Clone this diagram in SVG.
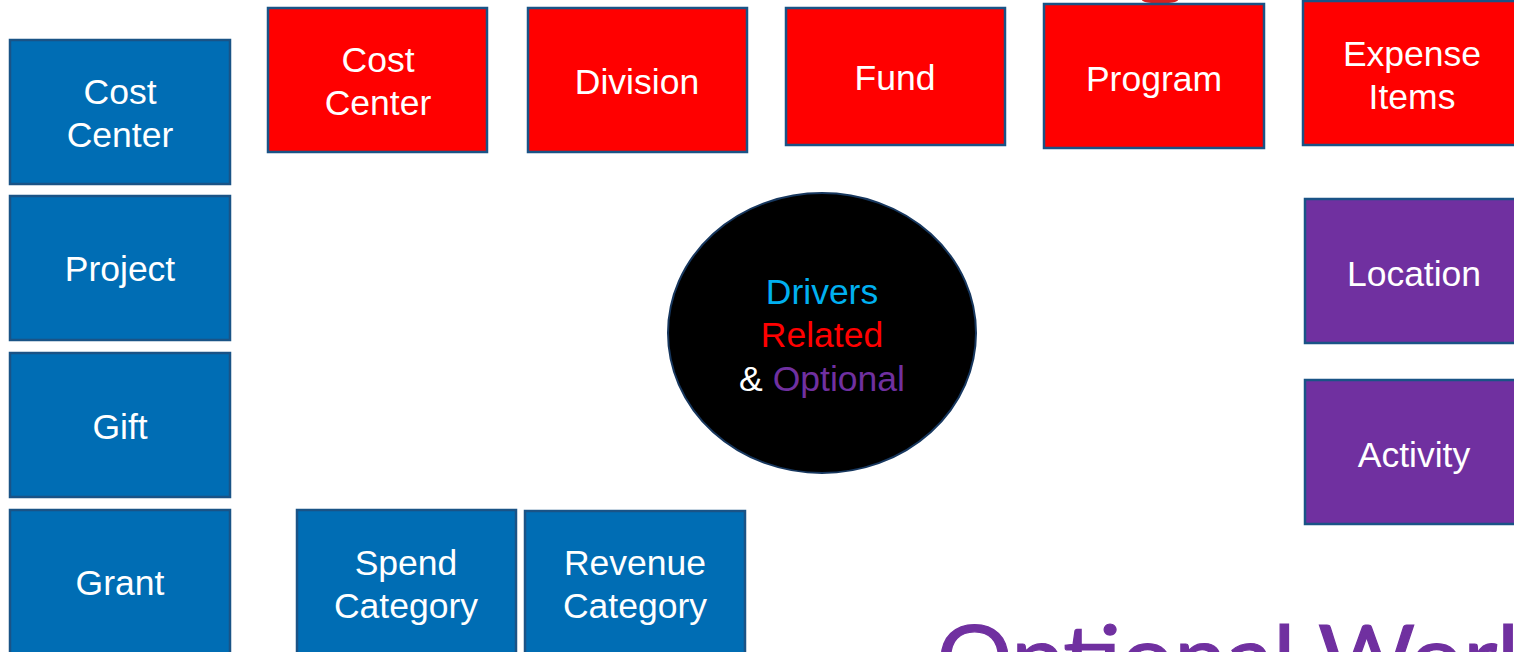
<svg xmlns="http://www.w3.org/2000/svg" width="1514" height="652" viewBox="0 0 1514 652">
<style>
.box{stroke:#1A5386;stroke-width:2.5}
.blue{fill:#006DB4}
.red{fill:#FF0000}
.purple{fill:#7030A0}
.lbl{font-family:"Liberation Sans",Arial,sans-serif;font-size:35.5px;fill:#FFFFFF;text-anchor:middle}
</style>
<rect x="0" y="0" width="1514" height="652" fill="#FFFFFF"/>
<ellipse cx="1160" cy="0" rx="18" ry="3.5" fill="#D42020"/>
<g id="blue-cost-center"><rect class="box blue" x="10" y="40" width="220" height="144"/><text class="lbl" x="120" y="103.5">Cost</text><text class="lbl" x="120" y="146.5">Center</text></g>
<g id="project"><rect class="box blue" x="10" y="196" width="220" height="144"/><text class="lbl" x="120" y="281">Project</text></g>
<g id="gift"><rect class="box blue" x="10" y="353" width="220" height="144"/><text class="lbl" x="120" y="438.5">Gift</text></g>
<g id="grant"><rect class="box blue" x="10" y="510" width="220" height="150"/><text class="lbl" x="120" y="594.5">Grant</text></g>
<g id="spend-category"><rect class="box blue" x="297" y="510" width="219" height="150"/><text class="lbl" x="406" y="575">Spend</text><text class="lbl" x="406" y="618">Category</text></g>
<g id="revenue-category"><rect class="box blue" x="525" y="511" width="220" height="150"/><text class="lbl" x="635" y="575">Revenue</text><text class="lbl" x="635" y="618">Category</text></g>
<g id="red-cost-center"><rect class="box red" x="268" y="8" width="219" height="144"/><text class="lbl" x="378" y="72">Cost</text><text class="lbl" x="378" y="115">Center</text></g>
<g id="division"><rect class="box red" x="528" y="8" width="219" height="144"/><text class="lbl" x="637" y="93.5">Division</text></g>
<g id="fund"><rect class="box red" x="786" y="8" width="219" height="137"/><text class="lbl" x="895" y="90">Fund</text></g>
<g id="program"><rect class="box red" x="1044" y="4" width="220" height="144"/><text class="lbl" x="1154" y="90.5">Program</text></g>
<g id="expense-items"><rect class="box red" x="1303" y="1" width="220" height="144"/><text class="lbl" x="1412" y="66">Expense</text><text class="lbl" x="1412" y="109">Items</text></g>
<g id="location"><rect class="box purple" x="1305" y="199" width="220" height="144"/><text class="lbl" x="1414" y="286">Location</text></g>
<g id="activity"><rect class="box purple" x="1305" y="380" width="220" height="144"/><text class="lbl" x="1414" y="467">Activity</text></g>
<g id="center">
<ellipse cx="822" cy="333" rx="154" ry="140" fill="#000000" stroke="#17375E" stroke-width="2"/>
<text class="lbl" x="822" y="304" style="fill:#00B0F0">Drivers</text>
<text class="lbl" x="822" y="347" style="fill:#FF0000">Related</text>
<text class="lbl" x="822" y="391"><tspan style="fill:#FFFFFF">&amp; </tspan><tspan style="fill:#7030A0">Optional</tspan></text>
</g>
<g id="connectors"></g>
<text x="937" y="688" font-family="Lato,'Open Sans',sans-serif" font-size="88" fill="#7030A0" stroke="#7030A0" stroke-width="1.2" textLength="608" lengthAdjust="spacingAndGlyphs">Optional Work</text>
</svg>
